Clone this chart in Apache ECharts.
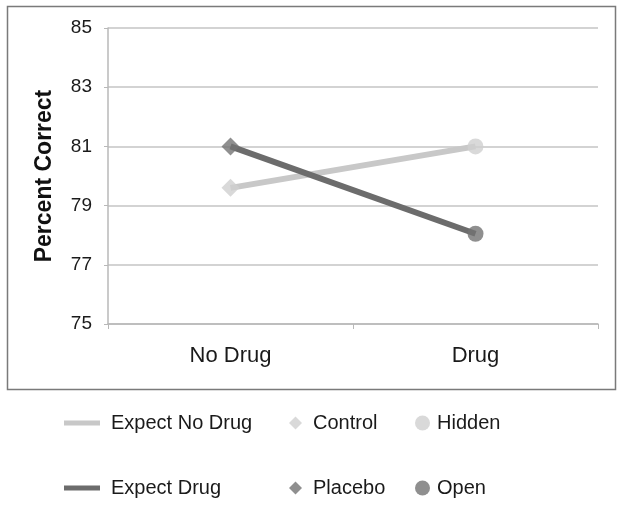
<!DOCTYPE html>
<html>
<head>
<meta charset="utf-8">
<script src="https://cdn.jsdelivr.net/npm/echarts@6/dist/echarts.min.js"></script>
<style>html,body{margin:0;padding:0;background:#fff}#c{width:624px;height:507px}</style>
</head>
<body>
<div id="c"></div>
<script>
const categories = ['No Drug', 'Drug'];
const expectNoDrug = [79.6, 81.0];
const expectDrug = [81.0, 78.05];
const yTicks = { min: 75, max: 85, interval: 2 };

const LIGHT = '#c8c8c8', DARK = '#6c6c6c';
const LIGHT_M = '#d0d0d0', DARK_M = '#737373';
const FONT = 'Liberation Sans';

const chart = echarts.init(document.getElementById('c'), null, {renderer: 'canvas'});

function leg(name, left, top, icon, w, h, pad) {
  return {
    data: [name], left: left, top: top, icon: icon, itemWidth: w, itemHeight: h,
    selectedMode: false, padding: 0,
    textStyle: { fontFamily: FONT, fontSize: 20, color: '#1a1a1a', lineHeight: 24, padding: [0, 0, 0, pad] }
  };
}

chart.setOption({
  animation: false,
  backgroundColor: '#fff',
  graphic: [{
    type: 'rect', shape: { x: 7.5, y: 6.5, width: 608, height: 383 },
    style: { fill: 'none', stroke: '#7a7a7a', lineWidth: 1.5 }, z: -1
  }],
  grid: { left: 108, right: 26, top: 28, bottom: 183 },
  xAxis: {
    type: 'category', data: categories, boundaryGap: true,
    axisLine: { lineStyle: { color: '#b8b8b8', width: 1.5 } },
    axisTick: { show: true, length: 5, lineStyle: { color: '#b8b8b8' } },
    axisLabel: { fontFamily: FONT, fontSize: 22, color: '#1a1a1a', margin: 21 }
  },
  yAxis: {
    type: 'value', min: yTicks.min, max: yTicks.max, interval: yTicks.interval,
    name: 'Percent Correct', nameLocation: 'middle', nameGap: 52,
    nameTextStyle: { fontFamily: FONT, fontSize: 23, fontWeight: 'bold', color: '#111' },
    axisLine: { show: true, lineStyle: { color: '#b8b8b8', width: 1.5 } },
    axisTick: { show: true, length: 4, lineStyle: { color: '#b8b8b8' } },
    splitLine: { lineStyle: { color: '#c4c4c4', width: 1.5 } },
    axisLabel: { fontFamily: FONT, fontSize: 19, color: '#1a1a1a', margin: 16 }
  },
  legend: [
    leg('Expect No Drug', 64, 411, 'rect', 36, 5, 6),
    leg('Expect Drug', 64, 476, 'rect', 36, 5, 6),
    leg('Control', 289, 411, 'diamond', 13, 13, 6),
    leg('Placebo', 289, 476, 'diamond', 13, 13, 6),
    leg('Hidden', 415, 411, 'circle', 15, 15, 2),
    leg('Open', 415, 476, 'circle', 15, 15, 2)
  ],
  series: [
    { name: 'Expect No Drug', type: 'line', data: expectNoDrug, symbol: 'none', color: LIGHT,
      lineStyle: { color: LIGHT, width: 6 }, z: 2 },
    { name: 'Expect Drug', type: 'line', data: expectDrug, symbol: 'none', color: DARK,
      lineStyle: { color: DARK, width: 6 }, z: 3 },
    { name: 'Control', type: 'scatter', data: [expectNoDrug[0], '-'], symbol: 'diamond', symbolSize: 18,
      itemStyle: { color: LIGHT_M }, z: 4 },
    { name: 'Hidden', type: 'scatter', data: ['-', expectNoDrug[1]], symbol: 'circle', symbolSize: 16,
      itemStyle: { color: LIGHT_M }, z: 4 },
    { name: 'Placebo', type: 'scatter', data: [expectDrug[0], '-'], symbol: 'diamond', symbolSize: 18,
      itemStyle: { color: DARK_M }, z: 5 },
    { name: 'Open', type: 'scatter', data: ['-', expectDrug[1]], symbol: 'circle', symbolSize: 16,
      itemStyle: { color: DARK_M }, z: 5 }
  ]
});
</script>
</body>
</html>
